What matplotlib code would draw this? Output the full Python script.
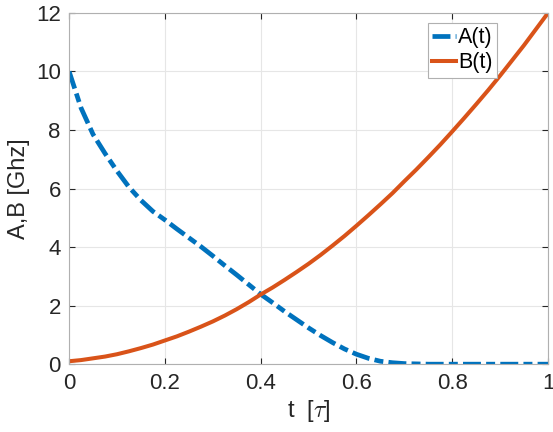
import numpy as np
import matplotlib.pyplot as plt

# values at steps of 0.025
t = [0.0, 0.025, 0.05, 0.075, 0.1, 0.125, 0.15, 0.175, 0.2, 0.225,
     0.25, 0.275, 0.3, 0.325, 0.35, 0.375, 0.4, 0.425, 0.45, 0.475,
     0.5, 0.525, 0.55, 0.575, 0.6, 0.625, 0.65, 0.675, 0.7, 0.725,
     0.75, 0.775, 0.8, 0.825, 0.85, 0.875, 0.9, 0.925, 0.95, 0.975, 1.0]
a_vals = [10.0, 8.75, 7.85, 7.2, 6.6, 6.05, 5.6, 5.22, 4.93, 4.62,
          4.32, 4.02, 3.7, 3.37, 3.05, 2.72, 2.39, 2.1, 1.8, 1.52,
          1.24, 0.98, 0.74, 0.52, 0.34, 0.2, 0.1, 0.05, 0.02, 0.01,
          0.0, 0.0, 0.0, 0.0, 0.0, 0.0, 0.0, 0.0, 0.0, 0.0, 0.0]
b_vals = [0.1, 0.14, 0.2, 0.26, 0.34, 0.44, 0.55, 0.67, 0.81, 0.95,
          1.11, 1.28, 1.46, 1.66, 1.88, 2.12, 2.38, 2.62, 2.88, 3.15,
          3.43, 3.73, 4.05, 4.38, 4.73, 5.09, 5.46, 5.84, 6.25, 6.65,
          7.07, 7.5, 7.95, 8.41, 8.88, 9.36, 9.86, 10.38, 10.9, 11.45, 12.0]

plt.rcParams['font.family'] = ['Liberation Sans', 'DejaVu Sans']
plt.rcParams['mathtext.fontset'] = 'cm'

fig = plt.figure(figsize=(5.53, 4.32), dpi=100)
ax = fig.add_axes([0.125, 0.157, 0.866, 0.813])

ax.plot(t, a_vals, color='#0072BD', linewidth=3.4,
        linestyle=(0, (3.8, 1.1, 1.9, 1.1)), label='A(t)')
ax.plot(t, b_vals, color='#D95319', linewidth=2.9, label='B(t)')

ax.set_xlim(0, 1)
ax.set_ylim(0, 12)
ax.set_xticks([0, 0.2, 0.4, 0.6, 0.8, 1])
ax.set_xticklabels(['0', '0.2', '0.4', '0.6', '0.8', '1'])
ax.set_yticks(range(0, 13, 2))
ax.grid(True, color='#e6e6e6', linewidth=0.8)
ax.set_axisbelow(True)
ax.tick_params(direction='in', labelsize=16, colors='#262626', length=4,
               top=True, right=True, pad=6)
for s in ax.spines.values():
    s.set_color('#b0b0b0')
    s.set_linewidth(0.8)

ax.set_xlabel(r't  [$\tau$]', fontsize=17, color='#262626', labelpad=3)
ax.set_ylabel('A,B [Ghz]', fontsize=17, color='#262626', labelpad=4)

leg = ax.legend(loc='upper right', bbox_to_anchor=(0.893, 0.972), fontsize=15.5,
                handlelength=1.1, handletextpad=0.1, borderpad=0.2,
                labelspacing=0.2, fancybox=False, framealpha=1,
                edgecolor='#b0b0b0', borderaxespad=0)
leg.get_frame().set_linewidth(0.8)

fig.savefig('out.png', dpi=100)
